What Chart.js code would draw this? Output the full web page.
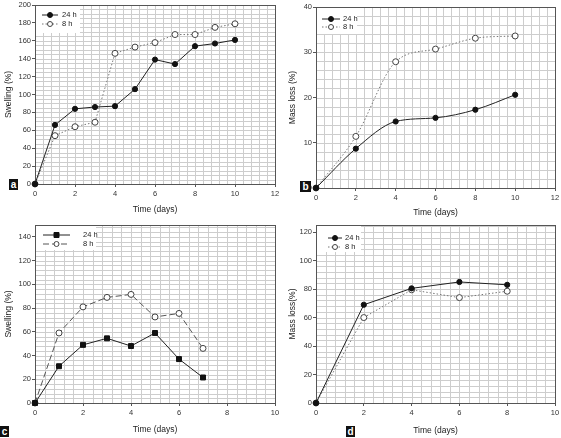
<!DOCTYPE html>
<html>
<head>
  <title>Swelling and mass loss</title>
  <script src="https://cdn.jsdelivr.net/npm/chart.js"></script>
  <style>
    body { margin: 0; background: #fff; width: 561px; height: 438px; position: relative; overflow: hidden; }
    canvas { position: absolute; }
    .tag { position: absolute; background: #111; color: #fff; font: bold 10px "Liberation Sans", Arial, sans-serif;
           text-align: center; line-height: 11px; width: 9px; height: 11px; }
  </style>
</head>
<body>
  <canvas id="chartA" width="280" height="220" style="left:0;top:0"></canvas>
  <canvas id="chartB" width="281" height="220" style="left:280px;top:0"></canvas>
  <canvas id="chartC" width="280" height="218" style="left:0;top:220px"></canvas>
  <canvas id="chartD" width="281" height="218" style="left:280px;top:220px"></canvas>
  <div class="tag" style="left:9px;top:179px">a</div>
  <div class="tag" style="left:300px;top:181px;width:11px">b</div>
  <div class="tag" style="left:0;top:426px">c</div>
  <div class="tag" style="left:346px;top:426px">d</div>

  <script>
    // panel a - swelling
    const daysA = [0, 1, 2, 3, 4, 5, 6, 7, 8, 9, 10];
    const swellA24 = [0, 66, 84, 86, 87, 106, 139, 134, 154, 157, 161];
    const swellA8 = [0, 54, 64, 69, 146, 153, 158, 167, 167, 175, 179];
    // panel b - mass loss
    const daysB = [0, 2, 4, 6, 8, 10];
    const lossB24 = [0, 8.7, 14.7, 15.5, 17.3, 20.6];
    const lossB8 = [0, 11.4, 27.9, 30.7, 33.1, 33.6];
    // panel c - swelling
    const daysC = [0, 1, 2, 3, 4, 5, 6, 7];
    const swellC24 = [0, 31, 49, 54.5, 48, 59, 37, 21.5];
    const swellC8 = [0, 59, 81, 89, 91.5, 72.5, 75.5, 46];
    // panel d - mass loss
    const daysD = [0, 2, 4, 6, 8];
    const lossD24 = [0, 69, 80.5, 85, 83];
    const lossD8 = [0, 60, 79.5, 74, 78.5];

    const seriesNames = ['24 h', '8 h'];
    const fontFam = '"Liberation Sans", Arial, sans-serif';

    function pts(xs, ys) {
      return xs.map((x, i) => ({ x: x, y: ys[i] }));
    }

    // fine graph-paper grid, frame and inner legend
    const paperPlugin = {
      id: 'paper',
      beforeDatasetsDraw(chart, args, opts) {
        const { ctx, chartArea: a, scales: { x, y } } = chart;
        ctx.save();
        ctx.strokeStyle = '#cdcdcd';
        ctx.lineWidth = 1;
        ctx.beginPath();
        for (let v = opts.xStep; v < x.max - 1e-6; v += opts.xStep) {
          const px = Math.round(x.getPixelForValue(v)) + 0.5;
          ctx.moveTo(px, a.top); ctx.lineTo(px, a.bottom);
        }
        for (let v = opts.yStep; v < y.max - 1e-6; v += opts.yStep) {
          const py = Math.round(y.getPixelForValue(v)) + 0.5;
          ctx.moveTo(a.left, py); ctx.lineTo(a.right, py);
        }
        ctx.stroke();
        // legend background
        ctx.fillStyle = '#fff';
        ctx.fillRect(a.left + 1, a.top + 1, opts.legW, opts.legH);
        ctx.strokeStyle = '#555';
        ctx.strokeRect(Math.round(a.left) + 0.5, Math.round(a.top) + 0.5, Math.round(a.right - a.left), Math.round(a.bottom - a.top));
        ctx.restore();
      },
      afterDatasetsDraw(chart, args, opts) {
        const { ctx, chartArea: a } = chart;
        ctx.save();
        ctx.font = '7.5px ' + fontFam;
        ctx.textBaseline = 'middle';
        chart.data.datasets.forEach((ds, i) => {
          const ly = a.top + opts.legY + i * opts.legGap;
          const x0 = a.left + opts.legX;
          const x1 = x0 + opts.lineLen;
          ctx.strokeStyle = ds.borderColor;
          ctx.lineWidth = 1;
          ctx.setLineDash(ds.borderDash || []);
          ctx.beginPath();
          ctx.moveTo(x0, ly); ctx.lineTo(x1, ly);
          ctx.stroke();
          ctx.setLineDash([]);
          const mx = (x0 + x1) / 2;
          ctx.fillStyle = ds.pointBackgroundColor;
          ctx.strokeStyle = ds.pointBorderColor;
          ctx.beginPath();
          if (ds.pointStyle === 'rect') {
            ctx.rect(mx - 2.5, ly - 2.5, 5, 5);
          } else {
            ctx.arc(mx, ly, 2.5, 0, Math.PI * 2);
          }
          ctx.fill(); ctx.stroke();
          ctx.fillStyle = '#222';
          ctx.fillText(ds.label, x1 + opts.textGap, ly);
        });
        ctx.restore();
      }
    };

    function makeChart(id, cfg) {
      const solid = {
        label: seriesNames[0],
        data: pts(cfg.days, cfg.s24),
        borderColor: '#222',
        borderWidth: 1,
        pointStyle: cfg.filledStyle || 'circle',
        pointRadius: cfg.filledStyle ? 3.5 : 2.6,
        pointBackgroundColor: '#111',
        pointBorderColor: '#111',
        cubicInterpolationMode: cfg.smooth ? 'monotone' : 'default',
        clip: false
      };
      const open = {
        label: seriesNames[1],
        data: pts(cfg.days, cfg.s8),
        borderColor: cfg.dash8Color || '#777',
        borderWidth: 1,
        borderDash: cfg.dash8,
        pointStyle: 'circle',
        pointRadius: 3,
        pointBackgroundColor: '#fff',
        pointBorderColor: '#444',
        cubicInterpolationMode: cfg.smooth ? 'monotone' : 'default',
        clip: false
      };
      const tickGrid = { drawOnChartArea: false, tickLength: 3, tickColor: '#555' };
      return new Chart(document.getElementById(id), {
        type: 'line',
        data: { datasets: [solid, open] },
        plugins: [paperPlugin],
        options: {
          responsive: false,
          animation: false,
          layout: { padding: { top: cfg.padTop, right: 0, left: 0, bottom: 0 } },
          plugins: {
            legend: { display: false },
            tooltip: { enabled: false },
            paper: cfg.paper
          },
          scales: {
            x: {
              type: 'linear',
              min: 0, max: cfg.xMax,
              grid: tickGrid,
              border: { display: false },
              ticks: { stepSize: 2, padding: 2, color: '#333', font: { size: 7.5, family: fontFam } },
              title: { display: true, text: 'Time (days)', color: '#222',
                       font: { size: 8.5, family: fontFam }, padding: { top: 0, bottom: cfg.xTitlePad } },
              afterFit(scale) {
                scale.height = cfg.xHeight;
                scale.paddingLeft = 0;
                scale.paddingRight = cfg.padRight;
              }
            },
            y: {
              min: 0, max: cfg.yMax,
              grid: tickGrid,
              border: { display: false },
              ticks: { stepSize: cfg.yStepMajor, padding: 1, color: '#333', font: { size: 7.5, family: fontFam } },
              afterBuildTicks(scale) {
                const list = [];
                for (let v = 0; v <= cfg.yMax; v += cfg.yStepMajor) list.push({ value: v });
                scale.ticks = list;
              },
              title: { display: true, text: cfg.yTitle, color: '#222',
                       font: { size: 8.5, family: fontFam }, padding: { top: cfg.yTitlePad, bottom: 0 } },
              afterFit(scale) {
                scale.width = cfg.yWidth;
                scale.paddingTop = 0;
                scale.paddingBottom = 0;
              }
            }
          }
        }
      });
    }

    makeChart('chartA', {
      days: daysA, s24: swellA24, s8: swellA8, dash8: [1.5, 2],
      xMax: 12, yMax: 200, yStepMajor: 20, yTitle: 'Swelling (%)',
      padTop: 5, padRight: 2, xHeight: 36, yWidth: 35, xTitlePad: 5, yTitlePad: 4,
      paper: { xStep: 0.4, yStep: 5, legW: 44, legH: 27, legX: 7, legY: 10, legGap: 9, lineLen: 16, textGap: 4 }
    });
    makeChart('chartB', {
      days: daysB, s24: lossB24, s8: lossB8, dash8: [1.5, 2], smooth: true,
      xMax: 12, yMax: 40, yStepMajor: 10, yTitle: 'Mass loss (%)',
      padTop: 7, padRight: 6, xHeight: 32, yWidth: 36, xTitlePad: 2, yTitlePad: 8,
      paper: { xStep: 0.4, yStep: 2, legW: 40, legH: 26, legX: 6, legY: 12, legGap: 8, lineLen: 18, textGap: 3 }
    });
    makeChart('chartC', {
      days: daysC, s24: swellC24, s8: swellC8, dash8: [6, 3], dash8Color: '#555', filledStyle: 'rect',
      xMax: 10, yMax: 150, yStepMajor: 20, yTitle: 'Swelling (%)',
      padTop: 4, padRight: 2, xHeight: 35, yWidth: 35, xTitlePad: 3, yTitlePad: 4,
      paper: { xStep: 0.4, yStep: 4, legW: 60, legH: 24, legX: 8, legY: 10, legGap: 9, lineLen: 27, textGap: 13 }
    });
    makeChart('chartD', {
      days: daysD, s24: lossD24, s8: lossD8, dash8: [1.5, 2],
      xMax: 10, yMax: 125, yStepMajor: 20, yTitle: 'Mass loss(%)',
      padTop: 4, padRight: 6, xHeight: 35, yWidth: 36, xTitlePad: 2, yTitlePad: 8,
      paper: { xStep: 0.4, yStep: 4, legW: 44, legH: 26, legX: 12, legY: 13, legGap: 9, lineLen: 14, textGap: 3 }
    });
  </script>
</body>
</html>
